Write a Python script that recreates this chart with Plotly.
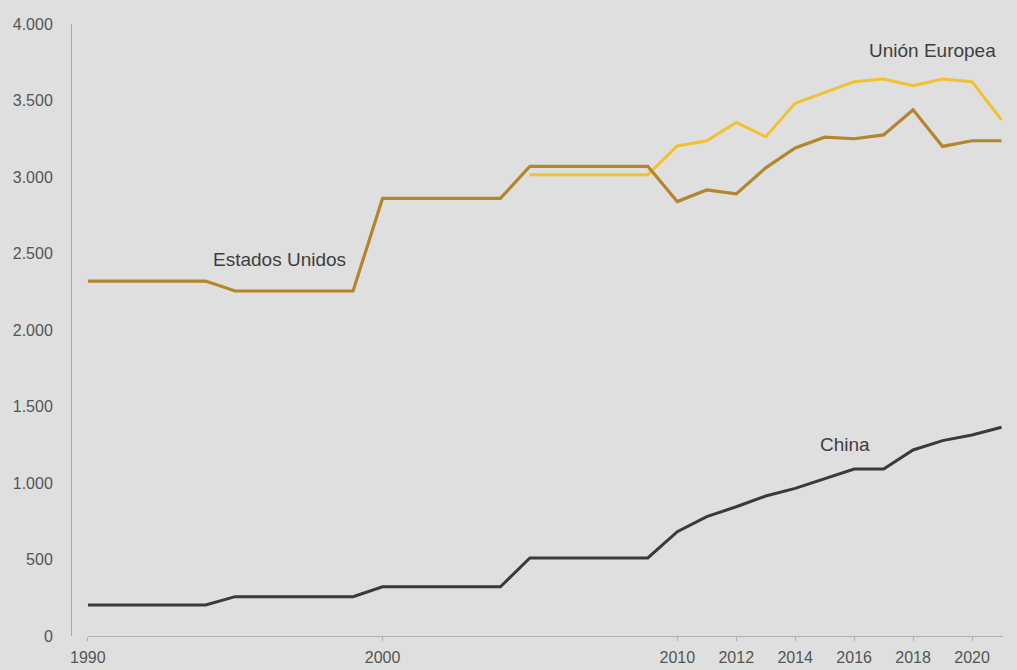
import plotly.graph_objects as go

years = list(range(1990, 2022))

estados_unidos = [2320, 2320, 2320, 2320, 2320,
                  2255, 2255, 2255, 2255, 2255,
                  2860, 2860, 2860, 2860, 2860,
                  3070, 3070, 3070, 3070, 3070,
                  2840, 2915, 2890, 3060, 3190, 3260, 3250, 3275, 3440, 3200, 3237, 3237]

union_europea = [None, None, None, None, None,
                 None, None, None, None, None,
                 None, None, None, None, None,
                 3015, 3015, 3015, 3015, 3015,
                 3203, 3237, 3357, 3263, 3482, 3551, 3623, 3641, 3597, 3641, 3623, 3373]

china = [203, 203, 203, 203, 203,
         257, 257, 257, 257, 257,
         322, 322, 322, 322, 322,
         510, 510, 510, 510, 510,
         682, 780, 845, 915, 965, 1026, 1091, 1091, 1216, 1277, 1314, 1364]

x_ticks = [1990, 2000, 2010, 2012, 2014, 2016, 2018, 2020]
y_ticks = [0, 500, 1000, 1500, 2000, 2500, 3000, 3500, 4000]

labels = [
    ("Unión Europea", 2018.65, 3825),
    ("Estados Unidos", 1996.5, 2460),
    ("China", 2015.7, 1250),
]

BG = "#dedfde"
FONT = "Liberation Sans, Arial, Helvetica, sans-serif"

fig = go.Figure()
fig.add_trace(go.Scatter(x=years, y=union_europea, mode="lines",
                         line=dict(color="#f0c232", width=3), connectgaps=False,
                         hoverinfo="skip"))
fig.add_trace(go.Scatter(x=years, y=estados_unidos, mode="lines",
                         line=dict(color="#b3862c", width=3.2), hoverinfo="skip"))
fig.add_trace(go.Scatter(x=years, y=china, mode="lines",
                         line=dict(color="#3a3a3a", width=3), hoverinfo="skip"))

for text, xv, yv in labels:
    fig.add_annotation(x=xv, y=yv, text=text, showarrow=False,
                       font=dict(family=FONT, size=19, color="#3e3e3e"),
                       xanchor="center", yanchor="middle")

fig.update_layout(
    width=1017, height=670,
    paper_bgcolor=BG, plot_bgcolor=BG,
    margin=dict(l=71, r=14, t=24, b=34, autoexpand=False),
    showlegend=False,
    separators=",.",
    font=dict(family=FONT, size=16, color="#555555"),
)

fig.update_xaxes(
    range=[1990, 2021.05], domain=[0.018, 1], automargin=False,
    tickvals=x_ticks, ticktext=[str(v) for v in x_ticks],
    showgrid=False, zeroline=False,
    showline=True, linecolor="#b0b0b0", linewidth=1,
    ticks="outside", ticklen=4, tickcolor="#b0b0b0", tickwidth=1,
    ticklabelstandoff=3,
    tickfont=dict(family=FONT, size=16, color="#555555"),
)
fig.update_yaxes(
    range=[0, 4000], anchor="free", position=0, automargin=False,
    tickvals=y_ticks, tickformat=",d",
    showgrid=False, zeroline=False,
    showline=True, linecolor="#a8a8a8", linewidth=1,
    ticks="", ticklabelstandoff=15,
    tickfont=dict(family=FONT, size=16, color="#555555"),
)

fig.write_html("out.html",
               config={"displayModeBar": False},
               post_script="document.body.style.margin='0';document.body.style.overflow='hidden';")
